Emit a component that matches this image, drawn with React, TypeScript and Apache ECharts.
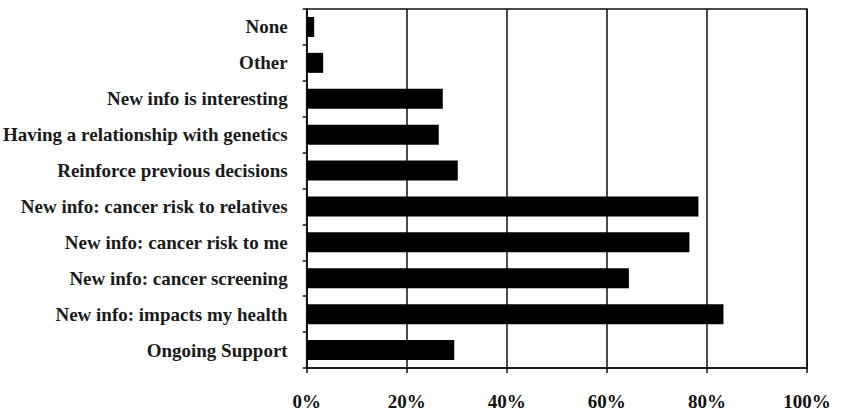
import React, { useEffect, useRef } from "react";
import * as echarts from "echarts";

const categories = [
  "None",
  "Other",
  "New info is interesting",
  "Having a relationship with genetics",
  "Reinforce previous decisions",
  "New info: cancer risk to relatives",
  "New info: cancer risk to me",
  "New info: cancer screening",
  "New info: impacts my health",
  "Ongoing Support",
];
const values = [1.5, 3.3, 27.2, 26.4, 30.2, 78.3, 76.5, 64.4, 83.3, 29.5];
const xTicks = [0, 20, 40, 60, 80, 100];

const FONT = "'Liberation Serif', 'Times New Roman', serif";

export default function App() {
  const ref = useRef<HTMLDivElement>(null);
  useEffect(() => {
    if (!ref.current) return;
    const chart = echarts.init(ref.current, undefined, { renderer: "svg" });
    chart.setOption({
      animation: false,
      backgroundColor: "#ffffff",
      grid: {
        left: 306,
        right: 43,
        top: 9,
        bottom: 44,
        show: true,
        borderColor: "#111",
        borderWidth: 1.5,
        containLabel: false,
      },
      xAxis: {
        type: "value",
        min: xTicks[0],
        max: xTicks[xTicks.length - 1],
        interval: 20,
        axisLine: { show: true, lineStyle: { color: "#111", width: 1.5 } },
        axisTick: { show: true, inside: false, length: 5, lineStyle: { color: "#111", width: 1.5 } },
        splitLine: { show: true, lineStyle: { color: "#111", width: 1.5 } },
        axisLabel: {
          formatter: "{value}%",
          margin: 24,
          color: "#111",
          fontFamily: FONT,
          fontSize: 19,
          fontWeight: "bold",
        },
      },
      yAxis: {
        type: "category",
        inverse: true,
        data: categories,
        axisLine: { show: true, lineStyle: { color: "#111", width: 1.5 } },
        axisTick: { show: true, length: 4, lineStyle: { color: "#111", width: 1.5 } },
        axisLabel: {
          margin: 19,
          color: "#1a1a1a",
          fontFamily: FONT,
          fontSize: 19,
          fontWeight: "bold",
        },
      },
      series: [
        {
          type: "bar",
          data: values,
          barWidth: 20,
          itemStyle: { color: "#000" },
        },
      ],
    });
    return () => chart.dispose();
  }, []);
  return (
    <div
      ref={ref}
      style={{ position: "absolute", left: 0, top: 0, width: 850, height: 412 }}
    />
  );
}
